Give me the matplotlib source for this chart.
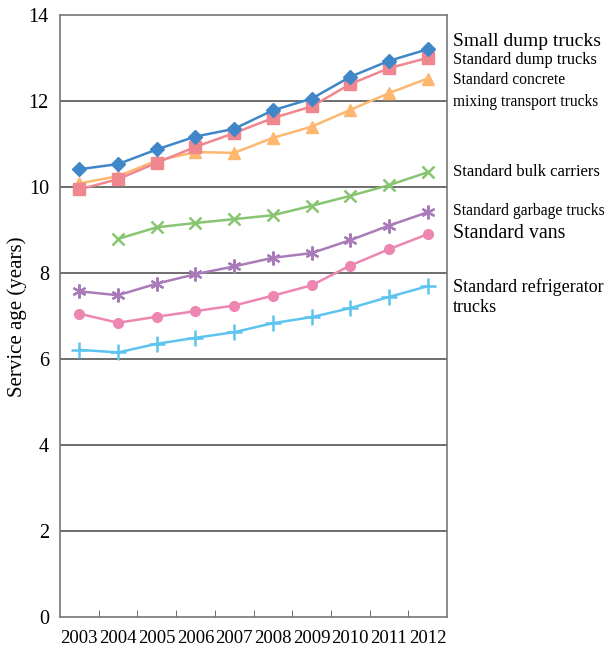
import matplotlib.pyplot as plt
from matplotlib.transforms import blended_transform_factory

years = ['2003', '2004', '2005', '2006', '2007', '2008', '2009', '2010', '2011', '2012']

small_dump = [10.42, 10.54, 10.88, 11.18, 11.36, 11.79, 12.06, 12.57, 12.94, 13.21]
standard_dump = [9.95, 10.19, 10.57, 10.94, 11.26, 11.61, 11.88, 12.40, 12.77, 13.01]
concrete_mixing = [10.09, 10.26, 10.62, 10.82, 10.80, 11.15, 11.41, 11.80, 12.19, 12.53]
bulk_carriers = [None, 8.80, 9.07, 9.17, 9.26, 9.35, 9.57, 9.80, 10.05, 10.35]
garbage = [7.58, 7.49, 7.76, 7.98, 8.16, 8.36, 8.47, 8.77, 9.11, 9.42]
vans = [7.06, 6.85, 6.99, 7.12, 7.25, 7.48, 7.72, 8.18, 8.56, 8.91]
refrigerator = [6.22, 6.16, 6.36, 6.50, 6.63, 6.84, 6.98, 7.19, 7.45, 7.70]

plt.rcParams['font.family'] = ['Liberation Serif', 'DejaVu Serif']

fig = plt.figure(figsize=(6.1, 6.49), dpi=100)
ax = fig.add_axes([60 / 610, 1 - 617.3 / 649, 387 / 610, 602 / 649])

x = list(range(len(years)))

def series(vals, color, marker, ms, mew=1.0):
    xs = [i for i, v in zip(x, vals) if v is not None]
    ys = [v for v in vals if v is not None]
    ax.plot(xs, ys, color=color, marker=marker, markersize=ms, lw=1.8,
            markeredgewidth=mew, zorder=3)

series(refrigerator, '#5cc4ee', '+', 11, 1.8)
series(vans, '#ee86b2', 'o', 7)
series(garbage, '#a97cb9', (6, 2, 0), 10, 1.6)
series(bulk_carriers, '#88c570', 'x', 8, 1.8)
series(concrete_mixing, '#fdb76f', '^', 9)
series(standard_dump, '#f0878e', 's', 8)
series(small_dump, '#3f87c8', 'D', 7.5)

ax.set_xlim(-0.5, len(years) - 0.5)
ax.set_ylim(0, 14)
ax.set_yticks(range(0, 15, 2))
ax.set_xticks(x)
ax.set_xticklabels(years)
ax.set_xticks([i + 0.5 for i in x[:-1]], minor=True)
ax.tick_params(axis='x', which='major', length=0, labelsize=13.5, pad=9)
ax.tick_params(axis='x', which='minor', direction='in', length=5, color='#555555')
ax.tick_params(axis='y', length=0, labelsize=14.5, pad=8)
for y in range(2, 14, 2):
    ax.axhline(y, color='#555555', lw=1.2, zorder=1)
for s in ax.spines.values():
    s.set_color('#777777')
    s.set_linewidth(1.2)

ax.set_ylabel('Service age (years)', fontsize=15)
ax.yaxis.set_label_coords(-0.085, 0.5)

tr = blended_transform_factory(ax.transAxes, ax.transData)
labels = [
    ('Small dump trucks', 13.40, 14),
    ('Standard dump trucks', 12.96, 11.8),
    ('Standard concrete\nmixing transport trucks', 12.24, 11.2),
    ('Standard bulk carriers', 10.36, 12),
    ('Standard garbage trucks', 9.45, 11.3),
    ('Standard vans', 8.92, 14.3),
    ('Standard refrigerator\ntrucks', 7.45, 13),
]
for text, yv, fs in labels:
    ax.text(1.015, yv, text, transform=tr, fontsize=fs, va='center', ha='left',
            linespacing=1.45 if fs < 12 else 1.25, clip_on=False)

fig.savefig('out.png', dpi=100)
